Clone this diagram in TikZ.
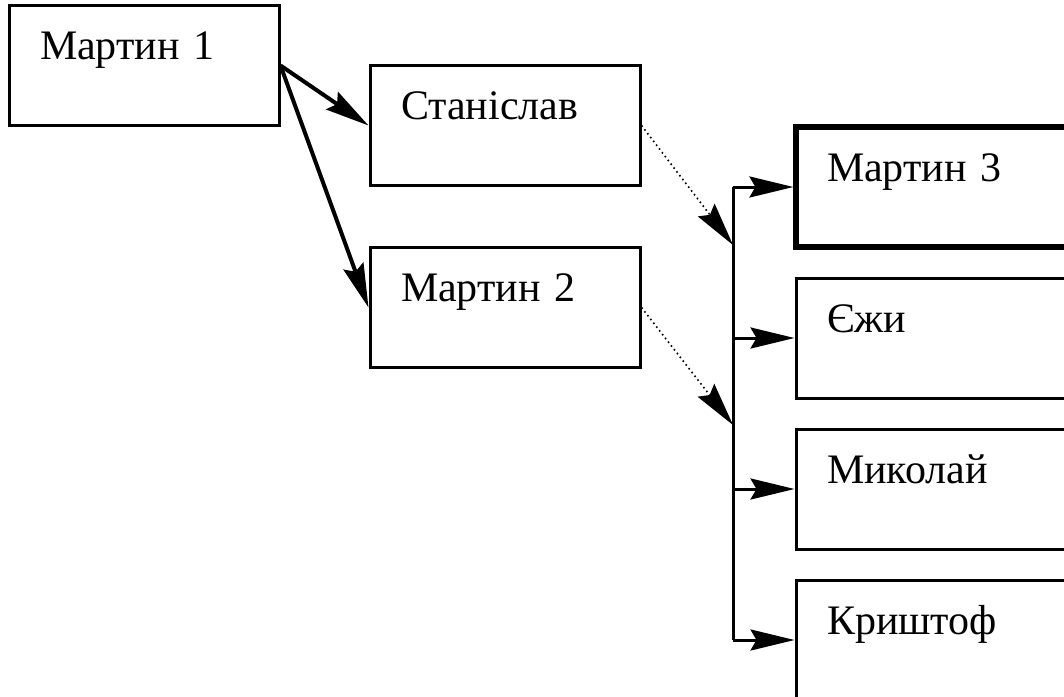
\documentclass[tikz,border=0pt]{standalone}
\usepackage{fontspec}
\setmainfont{Liberation Serif}
\usetikzlibrary{arrows.meta}

\tikzset{
  person/.style={draw, line width=1.5pt, align=left, inner xsep=15.5pt, inner ysep=0pt,
                 text width=104pt, text height=27pt, text depth=33pt,
                 font=\fontsize{21}{25}\selectfont},
  child/.style={person, text width=109pt},
  heir/.style={child, line width=2.6pt},
  head/.style={-{Stealth[length=22pt, width=10.5pt, inset=3pt]}},
  strong/.style={head, line width=2pt},
  weak/.style={head, line width=0.8pt, dash pattern=on 0.8pt off 1.6pt},
  branch/.style={head, line width=1.5pt}
}

\begin{document}
\begin{tikzpicture}[x=0.5pt, y=-0.5pt]
  \clip (0,0) rectangle (1064,696);
  \fill[white] (0,0) rectangle (1064,696);

  % first and second generation
  \node[person] (m1) at (144,65.5) {Мартин 1};
  \node[person] (st) at (505,125.5) {Станіслав};
  \node[person] (m2) at (505,307.5) {Мартин 2};

  % third generation
  \node[heir]  (m3) at (936,187) {Мартин 3};
  \node[child] (ej) at (936,338) {Єжи};
  \node[child] (mk) at (936,489) {Миколай};
  \node[child] (kr) at (936,640) {Криштоф};

  \draw[strong] (m1.east) -- (st.west);
  \draw[strong] (m1.east) -- (m2.west);

  % common bus on the right
  \coordinate (bustop) at (733,187);
  \coordinate (busbot) at (733,640);
  \coordinate (d1) at (733,245);
  \coordinate (d2) at (733,425);

  \draw[weak] (st.east) -- (d1);
  \draw[weak] (m2.east) -- (d2);

  \draw[line width=1.5pt] (bustop) -- (busbot);
  \foreach \n in {m3,ej,mk,kr}
    \draw[branch] (bustop |- \n.west) -- (\n.west);
\end{tikzpicture}
\end{document}
